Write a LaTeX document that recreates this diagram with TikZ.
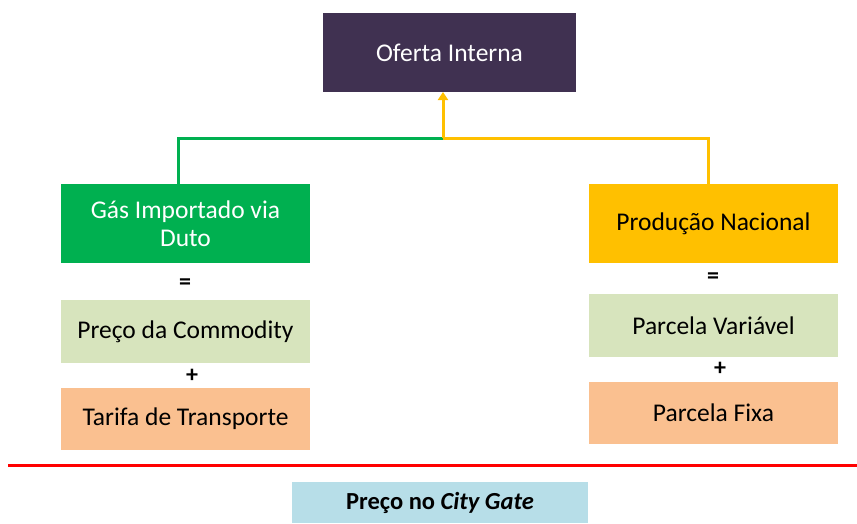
\documentclass[tikz,border=0pt]{standalone}
\usepackage{fontspec}
\setmainfont{Carlito}
\usetikzlibrary{arrows.meta}
\definecolor{cpurple}{HTML}{403151}
\definecolor{cgreen}{HTML}{00B050}
\definecolor{cyellow}{HTML}{FFC000}
\definecolor{clgreen}{HTML}{D7E4BD}
\definecolor{corange}{HTML}{FAC090}
\definecolor{cblue}{HTML}{B7DEE8}
\definecolor{cred}{HTML}{FF0000}
\tikzset{
  box/.style={inner sep=0pt, align=center, font=\fontsize{25.5}{28}\selectfont},
  op/.style={inner sep=0pt, font=\bfseries\fontsize{24}{26}\selectfont},
  conn/.style={line width=3pt},
}
\begin{document}
\begin{tikzpicture}[x=1pt,y=-1pt]
\useasboundingbox (0,0) rectangle (857,523);
% boxes
\fill[cpurple] (323,13) rectangle (576,92);
\node[box, text=white] (oferta) at (449.5,52.5) {Oferta Interna};
\fill[cgreen] (61,184) rectangle (310,263);
\node[box, text=white] (gas) at (185.5,224) {Gás Importado via\\Duto};
\fill[clgreen] (61,300) rectangle (310,363);
\node[box] (pc) at (185.5,331.5) {Preço da Commodity};
\fill[corange] (61,388) rectangle (310,450);
\node[box] (tt) at (185.5,419) {Tarifa de Transporte};
\fill[cyellow] (589,184) rectangle (838,263);
\node[box] (pn) at (713.5,223.5) {Produção Nacional};
\fill[clgreen] (589,294) rectangle (838,357);
\node[box] (pv) at (713.5,325.5) {Parcela Variável};
\fill[corange] (589,382) rectangle (838,444);
\node[box] (pf) at (713.5,413) {Parcela Fixa};
\node[op] (eq1) at (185,284) {=};
\node[op] (pl1) at (192,376) {+};
\node[op] (eq2) at (713,278) {=};
\node[op] (pl2) at (720,369) {+};
% red line
\coordinate (rl) at (8,465);
\coordinate (rr) at (857,465);
\draw[cred, line width=3pt] (rl) -- (rr);
% city gate
\fill[cblue] (292,482) rectangle (588,523);
\node[inner sep=0pt, font=\bfseries\fontsize{24.5}{26}\selectfont] (cg) at (440,503) {Preço no \textit{City Gate}};
% connectors
\coordinate (gtop) at (178,184);
\coordinate (ptop) at (708,184);
\coordinate (mid) at (443,138);
\coordinate (obot) at (443,92);
\draw[conn, cgreen] (gtop) -- (178,138) -- (mid);
\draw[conn, cyellow] (ptop) -- (708,138) -- (mid);
\draw[conn, cyellow, -{Triangle[length=8pt,width=10pt]}] (mid) -- (obot);
\end{tikzpicture}
\end{document}
